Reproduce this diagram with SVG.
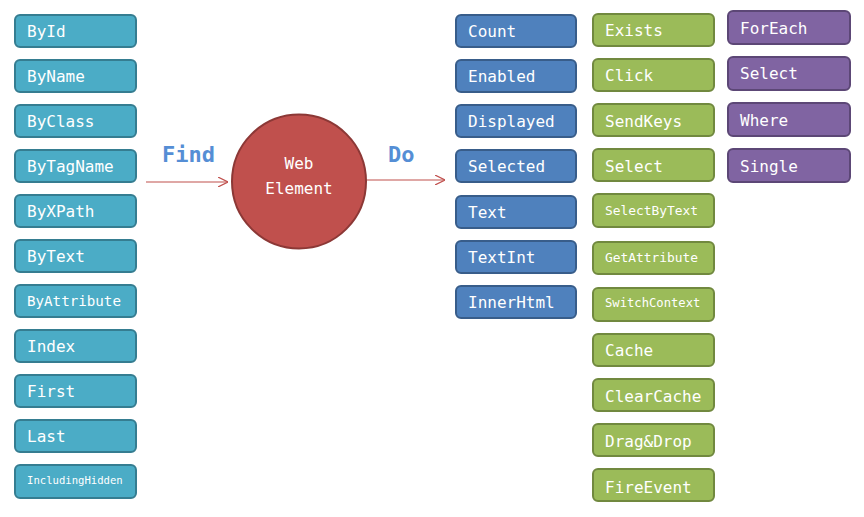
<svg xmlns="http://www.w3.org/2000/svg" width="864" height="517" viewBox="0 0 864 517">
<defs>
<style>
.t{font-family:"DejaVu Sans Mono","Liberation Mono",monospace;font-size:16px;fill:#fff}
.teal rect{fill:#4BACC6;stroke:#357D91;stroke-width:2}
.blue rect{fill:#4F81BD;stroke:#385D8A;stroke-width:2}
.green rect{fill:#9BBB59;stroke:#71893F;stroke-width:2}
.purple rect{fill:#8064A2;stroke:#5C4776;stroke-width:2}
.lbl{font-family:"DejaVu Sans Mono","Liberation Mono",monospace;font-size:22px;font-weight:bold;fill:#558ED5}
.arr{stroke:#C0504D;stroke-width:1.2;fill:none}
</style>
<marker id="ah" viewBox="0 0 10 10" refX="10" refY="5" markerWidth="10" markerHeight="10" markerUnits="userSpaceOnUse" orient="auto">
<path d="M0,0 L10,5 L0,10" fill="none" stroke="#C0504D" stroke-width="1.2"/>
</marker>
</defs>
<rect width="864" height="517" fill="#fff"/>
<g id="connectors">
<line class="arr" x1="146" y1="182" x2="228" y2="182" marker-end="url(#ah)"/>
<line class="arr" x1="366" y1="180" x2="445" y2="180" marker-end="url(#ah)"/>
</g>
<text class="lbl" x="162" y="162">Find</text>
<text class="lbl" x="388" y="162">Do</text>
<g id="webelement">
<circle cx="299" cy="181.5" r="67" fill="#C0504D" stroke="#8C3836" stroke-width="2"/>
<text class="t" x="299" y="169" text-anchor="middle">Web</text>
<text class="t" x="299" y="194" text-anchor="middle">Element</text>
</g>
<g class="teal">
<g id="byid"><rect x="15" y="15" width="121" height="32" rx="5"/><text class="t" x="27" y="37">ById</text></g>
<g id="byname"><rect x="15" y="60" width="121" height="32" rx="5"/><text class="t" x="27" y="82">ByName</text></g>
<g id="byclass"><rect x="15" y="105" width="121" height="32" rx="5"/><text class="t" x="27" y="127">ByClass</text></g>
<g id="bytagname"><rect x="15" y="150" width="121" height="32" rx="5"/><text class="t" x="27" y="172">ByTagName</text></g>
<g id="byxpath"><rect x="15" y="195" width="121" height="32" rx="5"/><text class="t" x="27" y="217">ByXPath</text></g>
<g id="bytext"><rect x="15" y="240" width="121" height="32" rx="5"/><text class="t" x="27" y="262">ByText</text></g>
<g id="byattribute"><rect x="15" y="285" width="121" height="32" rx="5"/><text class="t" x="27" y="306" style="font-size:14.2px">ByAttribute</text></g>
<g id="index"><rect x="15" y="330" width="121" height="32" rx="5"/><text class="t" x="27" y="352">Index</text></g>
<g id="first"><rect x="15" y="375" width="121" height="32" rx="5"/><text class="t" x="27" y="397">First</text></g>
<g id="last"><rect x="15" y="420" width="121" height="32" rx="5"/><text class="t" x="27" y="442">Last</text></g>
<g id="includinghidden"><rect x="15" y="465" width="121" height="33" rx="5"/><text class="t" x="27" y="484" style="font-size:10.6px">IncludingHidden</text></g>
</g>
<g class="blue">
<g id="count"><rect x="456" y="15" width="120" height="32" rx="5"/><text class="t" x="468" y="37">Count</text></g>
<g id="enabled"><rect x="456" y="60" width="120" height="32" rx="5"/><text class="t" x="468" y="82">Enabled</text></g>
<g id="displayed"><rect x="456" y="105" width="120" height="32" rx="5"/><text class="t" x="468" y="127">Displayed</text></g>
<g id="selected"><rect x="456" y="150" width="120" height="32" rx="5"/><text class="t" x="468" y="172">Selected</text></g>
<g id="text"><rect x="456" y="196" width="120" height="32" rx="5"/><text class="t" x="468" y="218">Text</text></g>
<g id="textint"><rect x="456" y="241" width="120" height="32" rx="5"/><text class="t" x="468" y="263">TextInt</text></g>
<g id="innerhtml"><rect x="456" y="286" width="120" height="32" rx="5"/><text class="t" x="468" y="308">InnerHtml</text></g>
</g>
<g class="green">
<g id="exists"><rect x="593" y="14" width="121" height="32" rx="5"/><text class="t" x="605" y="36">Exists</text></g>
<g id="click"><rect x="593" y="59" width="121" height="32" rx="5"/><text class="t" x="605" y="81">Click</text></g>
<g id="sendkeys"><rect x="593" y="104" width="121" height="32" rx="5"/><text class="t" x="605" y="127">SendKeys</text></g>
<g id="select-do"><rect x="593" y="149" width="121" height="32" rx="5"/><text class="t" x="605" y="172">Select</text></g>
<g id="selectbytext"><rect x="593" y="194" width="121" height="33" rx="5"/><text class="t" x="605" y="215" style="font-size:12.9px">SelectByText</text></g>
<g id="getattribute"><rect x="593" y="242" width="121" height="32" rx="5"/><text class="t" x="605" y="262" style="font-size:12.9px">GetAttribute</text></g>
<g id="switchcontext"><rect x="593" y="288" width="121" height="33" rx="5"/><text class="t" x="605" y="307" style="font-size:12.2px">SwitchContext</text></g>
<g id="cache"><rect x="593" y="334" width="121" height="32" rx="5"/><text class="t" x="605" y="356">Cache</text></g>
<g id="clearcache"><rect x="593" y="379" width="121" height="32" rx="5"/><text class="t" x="605" y="402">ClearCache</text></g>
<g id="dragdrop"><rect x="593" y="424" width="121" height="32" rx="5"/><text class="t" x="605" y="447">Drag&amp;Drop</text></g>
<g id="fireevent"><rect x="593" y="469" width="121" height="32" rx="5"/><text class="t" x="605" y="493">FireEvent</text></g>
</g>
<g class="purple">
<g id="foreach"><rect x="728" y="11" width="122" height="33" rx="5"/><text class="t" x="740" y="34">ForEach</text></g>
<g id="select-enum"><rect x="728" y="57" width="122" height="33" rx="5"/><text class="t" x="740" y="79">Select</text></g>
<g id="where"><rect x="728" y="103" width="122" height="33" rx="5"/><text class="t" x="740" y="126">Where</text></g>
<g id="single"><rect x="728" y="149" width="122" height="33" rx="5"/><text class="t" x="740" y="172">Single</text></g>
</g>
</svg>
